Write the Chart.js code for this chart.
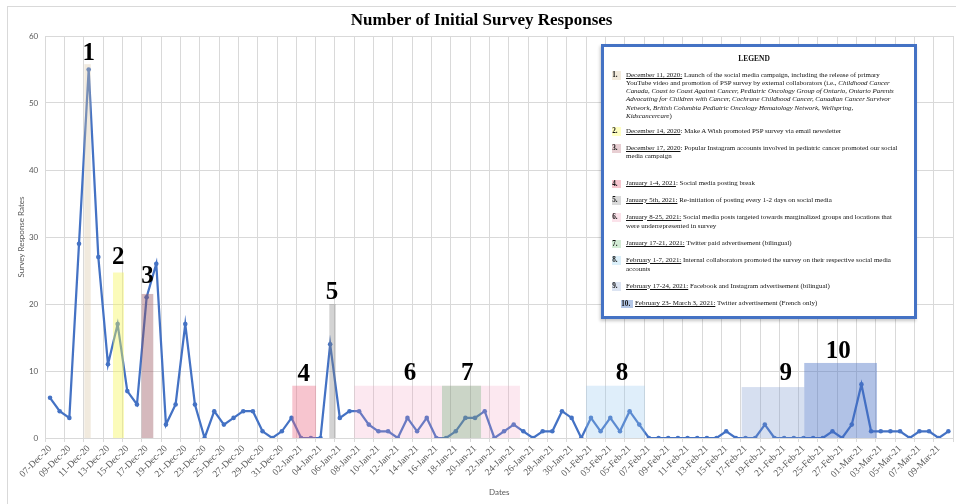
<!DOCTYPE html>
<html>
<head>
<meta charset="utf-8">
<script src="https://cdn.jsdelivr.net/npm/chart.js@4.4.1/dist/chart.umd.min.js"></script>
<style>
html,body{margin:0;padding:0;background:#fff;}
#wrap{position:relative;width:956px;height:504px;overflow:hidden;background:#fff;}
#frame{position:absolute;left:7px;top:6px;width:990px;height:540px;border:1px solid #d9d9d9;box-sizing:border-box;}
#c{position:absolute;left:0;top:0;}
#legend{position:absolute;left:601px;top:44px;width:316px;height:275px;border:3px solid #4472C4;box-sizing:border-box;background:#fff;font-family:'Liberation Serif',serif;color:#111;box-shadow:-1px 2px 3px rgba(0,0,0,0.22);}
#legend .hd{position:absolute;left:0;width:300px;top:8px;text-align:center;font-weight:bold;font-size:7.5px;line-height:8px;}
#legend .it{position:absolute;left:22px;font-size:6.95px;line-height:8.3px;white-space:nowrap;}
#legend .bd{position:absolute;left:7.7px;width:8.5px;height:8.6px;font-weight:bold;font-size:7.2px;line-height:8.6px;text-align:left;padding-left:0.5px;}
#legend u{text-decoration:underline;}
</style>
</head>
<body>
<div id="wrap">
<div id="frame"></div>
<canvas id="c" width="956" height="504"></canvas>
<div id="legend">
  <div class="hd">LEGEND</div>
  <div class="bd" style="top:24px;background:#F2EADC">1.</div>
  <div class="it" style="top:23.6px"><u>December 11, 2020:</u> Launch of the social media campaign, including the release of primary<br>YouTube video and promotion of PSP survey by external collaborators (i.e., <i>Childhood Cancer</i><br><i>Canada, Coast to Coast Against Cancer, Pediatric Oncology Group of Ontario, Ontario Parents</i><br><i>Advocating for Children with Cancer, Cochrane Childhood Cancer, Canadian Cancer Survivor</i><br><i>Network, British Columbia Pediatric Oncology Hematology Network, Wellspring,</i><br><i>Kidscancercare</i>)</div>
  <div class="bd" style="top:80px;background:#FFFFC2">2.</div>
  <div class="it" style="top:79.6px"><u>December 14, 2020</u>: Make A Wish promoted PSP survey via email newsletter</div>
  <div class="bd" style="top:97.3px;background:#E8CFD3">3.</div>
  <div class="it" style="top:96.9px"><u>December 17, 2020</u>: Popular Instagram accounts involved in pediatric cancer promoted our social<br>media campaign</div>
  <div class="bd" style="top:132.6px;background:#F6C6CF">4.</div>
  <div class="it" style="top:132.2px"><u>January 1-4, 2021</u>: Social media posting break</div>
  <div class="bd" style="top:149.3px;background:#DADADA">5.</div>
  <div class="it" style="top:148.9px"><u>January 5th, 2021:</u> Re-initiation of posting every 1-2 days on social media</div>
  <div class="bd" style="top:166px;background:#FBE2EA">6.</div>
  <div class="it" style="top:165.6px;line-height:9.6px"><u>January 8-25, 2021:</u> Social media posts targeted towards marginalized groups and locations that<br>were underrepresented in survey</div>
  <div class="bd" style="top:192.6px;background:#D3EBD5">7.</div>
  <div class="it" style="top:192.2px"><u>January 17-21, 2021:</u> Twitter paid advertisement (bilingual)</div>
  <div class="bd" style="top:209.3px;background:#DCF0FA">8.</div>
  <div class="it" style="top:208.9px;line-height:9.2px"><u>February 1-7, 2021:</u> Internal collaborators promoted the survey on their respective social media<br>accounts</div>
  <div class="bd" style="top:235.3px;background:#DCE4F2">9.</div>
  <div class="it" style="top:234.9px"><u>February 17-24, 2021:</u> Facebook and Instagram advertisement (bilingual)</div>
  <div class="bd" style="top:252.6px;left:16.7px;width:12.2px;background:#B4C7E7">10.</div>
  <div class="it" style="top:252.2px;left:31px"><u>February 23- March 3, 2021:</u> Twitter advertisement (French only)</div>
</div>
</div>
<script>
// ---- data ----
const dates = [
  '07-Dec-20','08-Dec-20','09-Dec-20','10-Dec-20','11-Dec-20','12-Dec-20','13-Dec-20','14-Dec-20','15-Dec-20','16-Dec-20',
  '17-Dec-20','18-Dec-20','19-Dec-20','20-Dec-20','21-Dec-20','22-Dec-20','23-Dec-20','24-Dec-20','25-Dec-20','26-Dec-20',
  '27-Dec-20','28-Dec-20','29-Dec-20','30-Dec-20','31-Dec-20',
  '01-Jan-21','02-Jan-21','03-Jan-21','04-Jan-21','05-Jan-21','06-Jan-21','07-Jan-21','08-Jan-21','09-Jan-21','10-Jan-21',
  '11-Jan-21','12-Jan-21','13-Jan-21','14-Jan-21','15-Jan-21','16-Jan-21','17-Jan-21','18-Jan-21','19-Jan-21','20-Jan-21',
  '21-Jan-21','22-Jan-21','23-Jan-21','24-Jan-21','25-Jan-21','26-Jan-21','27-Jan-21','28-Jan-21','29-Jan-21','30-Jan-21','31-Jan-21',
  '01-Feb-21','02-Feb-21','03-Feb-21','04-Feb-21','05-Feb-21','06-Feb-21','07-Feb-21','08-Feb-21','09-Feb-21','10-Feb-21',
  '11-Feb-21','12-Feb-21','13-Feb-21','14-Feb-21','15-Feb-21','16-Feb-21','17-Feb-21','18-Feb-21','19-Feb-21','20-Feb-21',
  '21-Feb-21','22-Feb-21','23-Feb-21','24-Feb-21','25-Feb-21','26-Feb-21','27-Feb-21','28-Feb-21',
  '01-Mar-21','02-Mar-21','03-Mar-21','04-Mar-21','05-Mar-21','06-Mar-21','07-Mar-21','08-Mar-21','09-Mar-21','10-Mar-21'
];
const responses = [
  6,4,3,29,55,27,11,17,7,5,
  21,26,2,5,17,5,0,4,2,3,
  4,4,1,0,1,3,0,0,0,14,
  3,4,4,2,1,1,0,3,1,3,
  0,0,1,3,3,4,0,1,2,1,
  0,1,1,4,3,0,3,1,3,1,
  4,2,0,0,0,0,0,0,0,0,
  1,0,0,0,2,0,0,0,0,0,
  0,1,0,2,8,1,1,1,1,0,
  1,1,0,1
];
const yTicks = [0,10,20,30,40,50,60];
// campaign events: number, span in date-index units, shaded height
const eventNumbers = ['1','2','3','4','5','6','7','8','9','10'];
const eventStart = [3.55, 6.52, 9.49, 25.08, 28.91, 31.5, 40.58, 55.49, 71.6, 78.08];
const eventEnd   = [4.21, 7.66, 10.69, 27.54, 29.58, 48.65, 44.62, 61.59, 78.08, 85.61];
const eventTop   = [55.8, 24.7, 21.5, 7.8, 20.0, 7.8, 7.8, 7.8, 7.6, 11.2];

// ---- presentation ----
const eventStyle = {
  colors: ['rgba(215,195,160,0.35)','rgba(245,245,90,0.42)','rgba(150,80,90,0.4)','rgba(235,110,135,0.4)',
           'rgba(128,128,128,0.35)','rgba(240,150,185,0.22)','rgba(70,160,90,0.27)','rgba(150,200,240,0.3)',
           'rgba(120,150,205,0.3)','rgba(70,110,195,0.42)'],
  labelX: [4.0, 7.07, 10.1, 26.26, 29.2, 37.27, 43.2, 59.2, 76.16, 81.6],
  labelY: [56.4, 26.0, 23.1, 8.5, 20.7, 8.7, 8.7, 8.7, 8.6, 12.0]
};

const eventPlugin = {
  id: 'eventShading',
  afterDatasetsDraw(chart) {
    const {ctx, scales: {x, y}} = chart;
    ctx.save();
    eventNumbers.forEach((n, i) => {
      const l = x.getPixelForValue(eventStart[i]);
      const r = x.getPixelForValue(eventEnd[i]);
      const t = y.getPixelForValue(eventTop[i]);
      const b = y.getPixelForValue(0);
      ctx.fillStyle = eventStyle.colors[i];
      ctx.fillRect(l, t, r - l, b - t);
    });
    ctx.fillStyle = '#000';
    ctx.font = 'bold 25px "Liberation Serif"';
    ctx.textAlign = 'center';
    ctx.textBaseline = 'alphabetic';
    eventNumbers.forEach((n, i) => {
      ctx.fillText(n, x.getPixelForValue(eventStyle.labelX[i]), y.getPixelForValue(eventStyle.labelY[i]));
    });
    ctx.restore();
  }
};

const gridCol = '#d9d9d9';
new Chart(document.getElementById('c'), {
  type: 'line',
  data: {
    labels: dates,
    datasets: [{
      data: responses,
      borderColor: '#4472C4',
      backgroundColor: '#4472C4',
      borderWidth: 2.25,
      pointRadius: 2.3,
      pointHoverRadius: 2.3,
      pointBorderWidth: 0,
      tension: 0
    }]
  },
  options: {
    responsive: false,
    animation: false,
    events: [],
    layout: { padding: { left: 10, right: 2.8, top: 0, bottom: 0 } },
    plugins: {
      legend: { display: false },
      tooltip: { enabled: false },
      title: {
        display: true,
        text: 'Number of Initial Survey Responses',
        color: '#000',
        font: { family: 'Liberation Serif', size: 17, weight: 'bold' },
        padding: { top: 10, bottom: 5.6 }
      }
    },
    scales: {
      x: {
        offset: true,
        grid: {
          offset: true,
          color: c => (c.index === undefined || c.index % 2 === 0) ? gridCol : 'rgba(0,0,0,0)',
          drawTicks: true,
          tickLength: 4
        },
        border: { display: false },
        ticks: {
          autoSkip: false,
          minRotation: 45,
          maxRotation: 45,
          padding: 1,
          color: '#595959',
          font: { family: 'Liberation Serif', size: 9.5 },
          callback: (v, i) => (i % 2 === 0 ? dates[i] : '')
        },
        title: {
          display: true, text: 'Dates', color: '#595959',
          font: { family: 'Lato', size: 8 }, padding: { top: 2, bottom: 7 }
        },
        afterFit: s => { s.height = 66; s.paddingLeft = 0; s.paddingRight = 0; }
      },
      y: {
        min: 0, max: 60,
        afterBuildTicks: s => { s.ticks = yTicks.map(v => ({ value: v })); },
        grid: { color: gridCol, drawTicks: false },
        border: { display: false },
        ticks: { padding: 7, color: '#595959', font: { family: 'Lato', size: 8 } },
        title: {
          display: true, text: 'Survey Response Rates', color: '#595959',
          font: { family: 'Lato', size: 8 }, padding: { top: 7, bottom: 4 }
        },
        afterFit: s => { s.width = 35.2; }
      }
    }
  },
  plugins: [eventPlugin]
});
</script>
</body>
</html>
